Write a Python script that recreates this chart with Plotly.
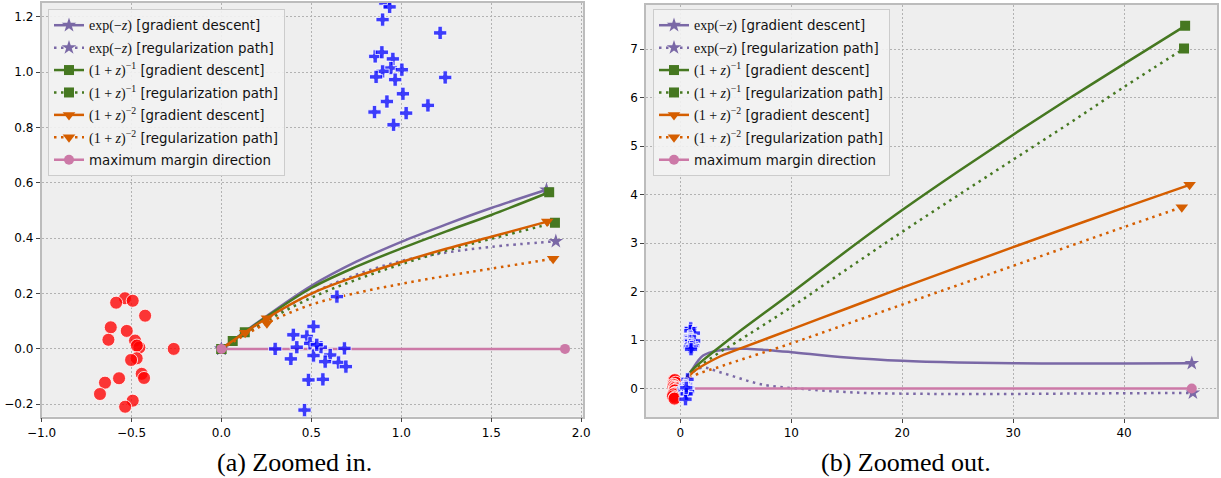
import plotly.graph_objects as go

# ---------------- data ----------------
red_x = [-0.536, -0.585, -0.493, -0.424, -0.615, -0.526, -0.628, -0.480, -0.456, -0.470,
         -0.265, -0.471, -0.502, -0.443, -0.430, -0.569, -0.647, -0.675, -0.493, -0.535]
red_y = [0.183, 0.167, 0.174, 0.120, 0.078, 0.065, 0.033, 0.030, 0.005, 0.012,
         0.000, -0.034, -0.040, -0.090, -0.105, -0.106, -0.122, -0.163, -0.187, -0.209]

blue_x = [0.642, 0.512, 0.400, 0.475, 0.493, 0.299, 0.419, 0.553, 0.684, 0.512,
          0.605, 0.577, 0.386, 0.651, 0.692, 0.484, 0.564, 0.462, 0.530,
          0.911, 0.935, 0.896, 1.216, 0.855, 0.892, 0.953, 0.942, 1.003, 0.896,
          0.860, 0.966, 1.244, 1.009, 0.920, 1.148, 0.851, 1.027, 0.957]
blue_y = [0.189, 0.081, 0.051, 0.045, 0.020, 0.000, 0.006, 0.006, 0.002, -0.024,
          -0.022, -0.046, -0.036, -0.049, -0.064, -0.112, -0.110, -0.221, 0.015,
          1.250, 1.236, 1.190, 1.142, 1.057, 1.072, 1.048, 1.015, 1.009, 1.003,
          0.983, 0.973, 0.981, 0.922, 0.894, 0.880, 0.856, 0.852, 0.810]

# zoomed-in run (panel a): curve samples
a_exp_gd_x = [0, 0.25, 0.5, 0.75, 1.0, 1.25, 1.5, 1.807]
a_exp_gd_y = [0, 0.118, 0.228, 0.315, 0.387, 0.450, 0.509, 0.575]
a_exp_rp_x = [0, 0.25, 0.5, 0.75, 1.0, 1.25, 1.5, 1.859]
a_exp_rp_y = [0, 0.105, 0.200, 0.268, 0.318, 0.348, 0.369, 0.389]
a_inv1_gd_x = [0, 0.25, 0.5, 0.75, 1.0, 1.25, 1.5, 1.822]
a_inv1_gd_y = [0, 0.115, 0.220, 0.297, 0.363, 0.425, 0.484, 0.566]
a_inv1_rp_x = [0, 0.25, 0.5, 0.75, 1.0, 1.25, 1.5, 1.854]
a_inv1_rp_y = [0, 0.100, 0.185, 0.250, 0.306, 0.355, 0.398, 0.456]
a_inv2_gd_x = [0, 0.25, 0.5, 0.75, 1.0, 1.25, 1.5, 1.811]
a_inv2_gd_y = [0, 0.110, 0.200, 0.262, 0.314, 0.362, 0.405, 0.460]
a_inv2_rp_x = [0, 0.25, 0.5, 0.75, 1.0, 1.25, 1.5, 1.844]
a_inv2_rp_y = [0, 0.092, 0.160, 0.202, 0.235, 0.264, 0.290, 0.326]
a_mm_x = [0, 1.91]
a_mm_y = [0, 0]

# panel a: marked iterates
a_exp_gd_mx, a_exp_gd_my = [0, 1.807], [0, 0.575]
a_exp_rp_mx, a_exp_rp_my = [0, 1.859], [0, 0.389]
a_inv1_gd_mx, a_inv1_gd_my = [0, 0.063, 0.13, 1.822], [0, 0.029, 0.060, 0.566]
a_inv1_rp_mx, a_inv1_rp_my = [0, 1.854], [0, 0.456]
a_inv2_gd_mx, a_inv2_gd_my = [0.132, 0.253, 1.811], [0.058, 0.111, 0.460]
a_inv2_rp_mx, a_inv2_rp_my = [0.253, 1.844], [0.093, 0.326]
a_mm_mx, a_mm_my = [0, 1.91], [0, 0]

# zoomed-out run (panel b)
b_exp_gd_x = [0, 1.0, 2.05, 3.56, 5, 6, 8, 10, 15, 20, 25, 30, 35, 40, 46.1]
b_exp_gd_y = [0, 0.37, 0.68, 0.79, 0.82, 0.82, 0.79, 0.75, 0.64, 0.57, 0.535, 0.52, 0.515, 0.515, 0.52]
b_exp_rp_x = [0, 1.0, 2.05, 3.5, 5.07, 6.5, 8.08, 11.1, 14, 17.1, 22, 26.2, 35, 46.2]
b_exp_rp_y = [0, 0.32, 0.43, 0.34, 0.23, 0.13, 0.055, -0.01, -0.06, -0.095, -0.11, -0.115, -0.105, -0.09]
b_inv1_gd_x = [0, 1.0, 3.56, 5, 10, 15, 20, 25, 30, 35, 40, 45.5]
b_inv1_gd_y = [0, 0.363, 0.86, 1.12, 1.97, 2.84, 3.68, 4.47, 5.235, 5.975, 6.695, 7.48]
b_inv1_rp_x = [0, 1.0, 3.56, 5, 10, 15, 20, 25, 30, 35, 40, 45.4]
b_inv1_rp_y = [0, 0.31, 0.75, 0.95, 1.68, 2.46, 3.23, 3.98, 4.72, 5.46, 6.22, 7.01]
b_inv2_gd_x = [0, 1.0, 3.56, 5, 10, 15, 20, 25, 30, 35, 40, 45.9]
b_inv2_gd_y = [0, 0.31, 0.66, 0.79, 1.22, 1.65, 2.08, 2.50, 2.915, 3.325, 3.73, 4.20]
b_inv2_rp_x = [0, 1.0, 3.56, 5, 10, 15, 20, 25, 30, 35, 40, 45.2]
b_inv2_rp_y = [0, 0.235, 0.45, 0.56, 0.93, 1.33, 1.73, 2.13, 2.53, 2.93, 3.33, 3.74]
b_mm_x = [0, 46.1]
b_mm_y = [0, 0]

# panel b: marked iterates
b_exp_gd_mx, b_exp_gd_my = [0, 46.1], [0, 0.52]
b_exp_rp_mx, b_exp_rp_my = [0, 46.2], [0, -0.09]
b_inv1_gd_mx, b_inv1_gd_my = [0, 45.5], [0, 7.48]
b_inv1_rp_mx, b_inv1_rp_my = [0, 45.4], [0, 7.01]
b_inv2_gd_mx, b_inv2_gd_my = [0, 45.9], [0, 4.20]
b_inv2_rp_mx, b_inv2_rp_my = [0, 45.2], [0, 3.74]
b_mm_mx, b_mm_my = [0, 46.1], [0, 0]

MATH = "<span style=\"font-family:'Liberation Serif';font-size:14px\">%s</span>"
legend_labels = [
    MATH % "exp(−<i>z</i>)" + " [gradient descent]",
    MATH % "exp(−<i>z</i>)" + " [regularization path]",
    MATH % "(1 + <i>z</i>)<sup>−1</sup>" + " [gradient descent]",
    MATH % "(1 + <i>z</i>)<sup>−1</sup>" + " [regularization path]",
    MATH % "(1 + <i>z</i>)<sup>−2</sup>" + " [gradient descent]",
    MATH % "(1 + <i>z</i>)<sup>−2</sup>" + " [regularization path]",
    "maximum margin direction",
]
captions = ["(a) Zoomed in.", "(b) Zoomed out."]

x_ticks_a = [-1.0, -0.5, 0.0, 0.5, 1.0, 1.5, 2.0]
y_ticks_a = [-0.2, 0.0, 0.2, 0.4, 0.6, 0.8, 1.0, 1.2]
x_ticks_b = [0, 10, 20, 30, 40]
y_ticks_b = [0, 1, 2, 3, 4, 5, 6, 7]

# ---------------- styles ----------------
PURPLE, GREEN, ORANGE, PINK = '#7A68A6', '#467821', '#D55E00', '#CC79A7'
DOT = '2.5px,4.5px'

styles = [
    dict(color=PURPLE, dash='solid', symbol='star', size=11),
    dict(color=PURPLE, dash=DOT, symbol='star', size=11),
    dict(color=GREEN, dash='solid', symbol='square', size=10),
    dict(color=GREEN, dash=DOT, symbol='square', size=10),
    dict(color=ORANGE, dash='solid', symbol='triangle-down', size=11),
    dict(color=ORANGE, dash=DOT, symbol='triangle-down', size=11),
    dict(color=PINK, dash='solid', symbol='circle', size=10),
]

series_a = [
    (a_exp_gd_x, a_exp_gd_y, a_exp_gd_mx, a_exp_gd_my),
    (a_exp_rp_x, a_exp_rp_y, a_exp_rp_mx, a_exp_rp_my),
    (a_inv1_gd_x, a_inv1_gd_y, a_inv1_gd_mx, a_inv1_gd_my),
    (a_inv1_rp_x, a_inv1_rp_y, a_inv1_rp_mx, a_inv1_rp_my),
    (a_inv2_gd_x, a_inv2_gd_y, a_inv2_gd_mx, a_inv2_gd_my),
    (a_inv2_rp_x, a_inv2_rp_y, a_inv2_rp_mx, a_inv2_rp_my),
    (a_mm_x, a_mm_y, a_mm_mx, a_mm_my),
]
series_b = [
    (b_exp_gd_x, b_exp_gd_y, b_exp_gd_mx, b_exp_gd_my),
    (b_exp_rp_x, b_exp_rp_y, b_exp_rp_mx, b_exp_rp_my),
    (b_inv1_gd_x, b_inv1_gd_y, b_inv1_gd_mx, b_inv1_gd_my),
    (b_inv1_rp_x, b_inv1_rp_y, b_inv1_rp_mx, b_inv1_rp_my),
    (b_inv2_gd_x, b_inv2_gd_y, b_inv2_gd_mx, b_inv2_gd_my),
    (b_inv2_rp_x, b_inv2_rp_y, b_inv2_rp_mx, b_inv2_rp_my),
    (b_mm_x, b_mm_y, b_mm_mx, b_mm_my),
]

fig = go.Figure()


def add_panel(series, xa, ya, legend_name, tag):
    for k, ((xs, ys, mx, my), st) in enumerate(zip(series, styles)):
        line = dict(color=st['color'], width=2.5, dash=st['dash'], shape='spline', smoothing=1.0)
        fig.add_trace(go.Scatter(x=xs, y=ys, mode='lines', line=line, xaxis=xa, yaxis=ya,
                                 showlegend=False, hoverinfo='skip'))
        fig.add_trace(go.Scatter(x=mx, y=my, mode='markers',
                                 marker=dict(symbol=st['symbol'], size=st['size'], color=st['color']),
                                 xaxis=xa, yaxis=ya, showlegend=False, hoverinfo='skip'))
        fig.add_trace(go.Scatter(x=[None], y=[None], mode='lines+markers',
                                 line=dict(color=st['color'], width=2.5, dash=st['dash']),
                                 marker=dict(symbol=st['symbol'], size=st['size'], color=st['color']),
                                 name=legend_labels[k], legend=legend_name,
                                 legendgroup=f'{tag}{k}', xaxis=xa, yaxis=ya))
    fig.add_trace(go.Scatter(x=red_x, y=red_y, mode='markers', xaxis=xa, yaxis=ya, showlegend=False,
                             marker=dict(symbol='circle', size=13, color='rgba(255,0,0,0.78)',
                                         line=dict(color='white', width=0.8))))
    fig.add_trace(go.Scatter(x=blue_x, y=blue_y, mode='markers', xaxis=xa, yaxis=ya, showlegend=False,
                             marker=dict(symbol='cross', size=11, color='rgba(0,0,255,0.75)',
                                         line=dict(color='white', width=0.8))))


add_panel(series_a, 'x', 'y', 'legend', 'a')
add_panel(series_b, 'x2', 'y2', 'legend2', 'b')

W, H = 1221, 478
axis_common = dict(showgrid=True, gridcolor='#b2b2b2', gridwidth=0.8, griddash='2px,2px',
                   zeroline=False, showline=True, linecolor='#bcbcbc', linewidth=1.5, mirror=True,
                   ticks='outside', ticklen=4, tickcolor='#444', tickwidth=0.8, automargin=False,
                   tickfont=dict(family='DejaVu Sans', size=12, color='black'))

legend_common = dict(bgcolor='rgba(242,242,242,0.9)', bordercolor='#cccccc', borderwidth=1,
                     font=dict(family='DejaVu Sans', size=13.4, color='#111'),
                     xanchor='left', yanchor='top', tracegroupgap=2, itemwidth=30)

fig.update_layout(
    width=W, height=H, margin=dict(l=0, r=0, t=0, b=0, autoexpand=False),
    paper_bgcolor='white', plot_bgcolor='#eeeeee',
    xaxis=dict(domain=[41.5 / W, 583 / W], range=[-1.0, 2.01], tickvals=x_ticks_a,
               tickformat='.1f', anchor='y', **axis_common),
    yaxis=dict(domain=[1 - 416.7 / H, 1 - 3 / H], range=[-0.245, 1.25], tickvals=y_ticks_a,
               tickformat='.1f', anchor='x', **axis_common),
    xaxis2=dict(domain=[646 / W, 1217.3 / W], range=[-3.1, 48.4], tickvals=x_ticks_b,
                anchor='y2', **axis_common),
    yaxis2=dict(domain=[1 - 417.3 / H, 1 - 4.5 / H], range=[-0.594, 7.92], tickvals=y_ticks_b,
                anchor='x2', **axis_common),
    legend=dict(x=48 / W, y=1 - 9 / H, **legend_common),
    legend2=dict(x=653 / W, y=1 - 9 / H, **legend_common),
    annotations=[
        dict(text=captions[0], x=294.5 / W, y=1 - 462 / H, xref='paper', yref='paper',
             showarrow=False, xanchor='center', yanchor='middle',
             font=dict(family='Liberation Serif', size=26, color='black')),
        dict(text=captions[1], x=906 / W, y=1 - 462 / H, xref='paper', yref='paper',
             showarrow=False, xanchor='center', yanchor='middle',
             font=dict(family='Liberation Serif', size=26, color='black')),
    ],
)

fig.write_html("out.html", config={'displayModeBar': False},
               post_script="document.body.style.margin='0';document.body.style.overflow='hidden';")
